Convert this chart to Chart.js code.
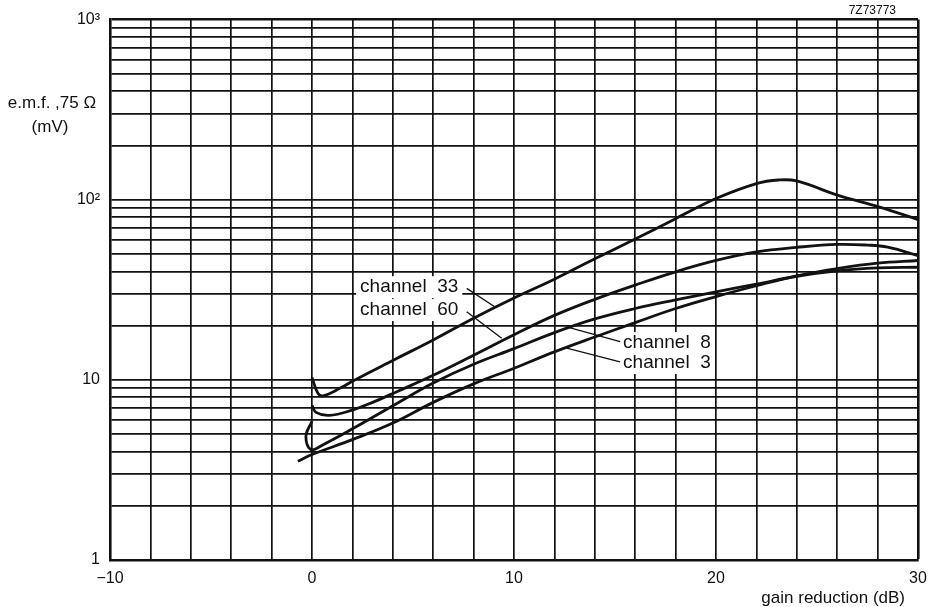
<!DOCTYPE html>
<html>
<head>
<meta charset="utf-8">
<script src="https://cdn.jsdelivr.net/npm/chart.js@4"></script>
<style>
  html, body { margin: 0; padding: 0; background: #fff; }
</style>
</head>
<body>
<canvas id="myChart" width="931" height="607"></canvas>
<script>
// gain reduction (dB) -> e.m.f. 75 ohm (mV)
var gain33 = [0, 0.3, 0.55, 1.4, 2.05, 4.05, 6, 8, 10, 12, 14, 16, 18, 20, 22, 23.1, 24, 26.05, 28.1, 30];
var emf33 = [10.3, 8.4, 8.15, 9.0, 9.9, 12.9, 16.65, 22, 28.5, 36.2, 47, 60.5, 78.5, 101.5, 122.9, 128.7, 127.1, 105.7, 91, 77.6];

var gain60 = [0, 0.2, 0.85, 2, 3, 4.2, 6, 8, 10, 12, 14, 16, 18, 20, 22, 24, 26, 27.5, 28.5, 30];
var emf60 = [7.2, 6.6, 6.35, 6.8, 7.5, 8.6, 10.6, 13.7, 17.8, 22.8, 28, 33.6, 39.8, 46, 51.3, 54.4, 56.5, 56, 54.5, 49];

var gain8 = [0, -0.3, -0.05, 0.55, 2, 4.2, 6, 8, 10, 12, 14, 16, 18, 20, 22, 24, 26, 28, 30];
var emf8 = [5.9, 4.85, 4.1, 4.37, 5.35, 7.4, 9.6, 12.2, 14.9, 18.3, 21.8, 24.9, 27.8, 30.8, 34, 37.6, 40.3, 41.8, 42.2];

var gain3 = [-0.7, 0, 2, 4, 6, 8, 10, 12, 14, 16, 18, 20, 22, 24, 26, 28, 30];
var emf3 = [3.53, 3.85, 4.66, 5.76, 7.5, 9.5, 11.6, 14.3, 17.3, 20.8, 24.9, 29, 33.3, 37.8, 41.5, 44.5, 46];

var xLabels = [-10, 0, 10, 20, 30];
var yLabels = { 1: '1', 10: '10', 100: '10²', 1000: '10³' };

// curve names with their text spot and leader line (data units)
var notes = [
  { text: 'channel  33', x: 2.38, y: 32.7, from: [7.66, 32.2], to: [9.06, 25.4] },
  { text: 'channel  60', x: 2.38, y: 24.4, from: [7.66, 23.9], to: [9.39, 17.0] },
  { text: 'channel  8', x: 15.4, y: 16.0, from: [15.25, 16.3], to: [12.61, 19.7] },
  { text: 'channel  3', x: 15.4, y: 12.4, from: [15.25, 12.6], to: [12.61, 15.0] }
];

var FONT = "'Liberation Sans', Arial, sans-serif";
Chart.defaults.font.family = FONT;
Chart.defaults.color = '#111';

function points(xs, ys) {
  return xs.map(function (x, i) { return { x: x, y: ys[i] }; });
}

function curve(label, xs, ys) {
  return {
    label: label,
    data: points(xs, ys),
    showLine: true,
    borderColor: '#121212',
    borderWidth: 2.8,
    pointRadius: 0,
    tension: 0.4,
    fill: false
  };
}

var logGrid = [];
[1, 10, 100].forEach(function (d) {
  for (var k = 1; k < 10; k++) logGrid.push(k * d);
});
logGrid.push(1000);

var notesPlugin = {
  id: 'notes',
  afterDraw: function (chart) {
    var c = chart.ctx, sx = chart.scales.x, sy = chart.scales.y;
    c.save();
    c.font = '19px ' + FONT;
    c.textBaseline = 'middle';
    notes.forEach(function (n) {
      var px = sx.getPixelForValue(n.x), py = sy.getPixelForValue(n.y);
      var w = c.measureText(n.text).width;
      c.fillStyle = '#fff';
      c.fillRect(px - 4, py - 11, w + 8, 22);
    });
    c.fillStyle = '#111';
    c.strokeStyle = '#111';
    c.lineWidth = 1.3;
    notes.forEach(function (n) {
      var px = sx.getPixelForValue(n.x), py = sy.getPixelForValue(n.y);
      c.fillText(n.text, px, py);
      c.beginPath();
      c.moveTo(sx.getPixelForValue(n.from[0]), sy.getPixelForValue(n.from[1]));
      c.lineTo(sx.getPixelForValue(n.to[0]), sy.getPixelForValue(n.to[1]));
      c.stroke();
    });

    var a = chart.chartArea;
    c.font = '17px ' + FONT;
    c.textAlign = 'center';
    c.fillText('e.m.f. ,75 Ω', 52, 103);
    c.fillText('(mV)', 50, 127);
    c.textAlign = 'right';
    c.fillText('gain reduction (dB)', a.right - 13, 598);
    c.font = '12px ' + FONT;
    c.fillText('7Z73773', a.right - 22, 11);
    c.restore();
  }
};

var ctx = document.getElementById('myChart');

var chart = new Chart(ctx, {
  type: 'scatter',
  data: {
    datasets: [
      curve('channel 33', gain33, emf33),
      curve('channel 60', gain60, emf60),
      curve('channel 8', gain8, emf8),
      curve('channel 3', gain3, emf3)
    ]
  },
  options: {
    responsive: false,
    animation: false,
    devicePixelRatio: 1,
    layout: { padding: { top: 18, right: 13, left: 0, bottom: 0 } },
    plugins: {
      legend: { display: false },
      tooltip: { enabled: false }
    },
    scales: {
      x: {
        type: 'linear',
        min: -10,
        max: 30,
        afterFit: function (s) {
          s.height = 47;
          s.paddingLeft = 0;
          s.paddingRight = 0;
        },
        ticks: {
          stepSize: 2,
          autoSkip: false,
          maxRotation: 0,
          padding: 9,
          color: '#111',
          font: { size: 16 },
          callback: function (v) {
            if (xLabels.indexOf(v) < 0) return '';
            return v < 0 ? '\u2212' + (-v) : String(v);
          }
        },
        grid: {
          color: '#111',
          drawTicks: false,
          lineWidth: function (c) { return c.tick && c.tick.value === 30 ? 2.6 : 1.7; }
        },
        border: { display: true, color: '#111', width: 2.6 }
      },
      y: {
        type: 'logarithmic',
        min: 1,
        max: 1000,
        afterFit: function (s) { s.width = 110; },
        afterBuildTicks: function (s) {
          s.ticks = logGrid.map(function (v) { return { value: v }; });
        },
        ticks: {
          autoSkip: false,
          padding: 10,
          color: '#111',
          font: { size: 16 },
          callback: function (v) { return yLabels[v] || ''; }
        },
        grid: {
          color: '#111',
          drawTicks: false,
          lineWidth: function (c) { return c.tick && c.tick.value === 1000 ? 2.6 : 1.7; }
        },
        border: { display: true, color: '#111', width: 2.6 }
      }
    }
  },
  plugins: [notesPlugin]
});
</script>
</body>
</html>
